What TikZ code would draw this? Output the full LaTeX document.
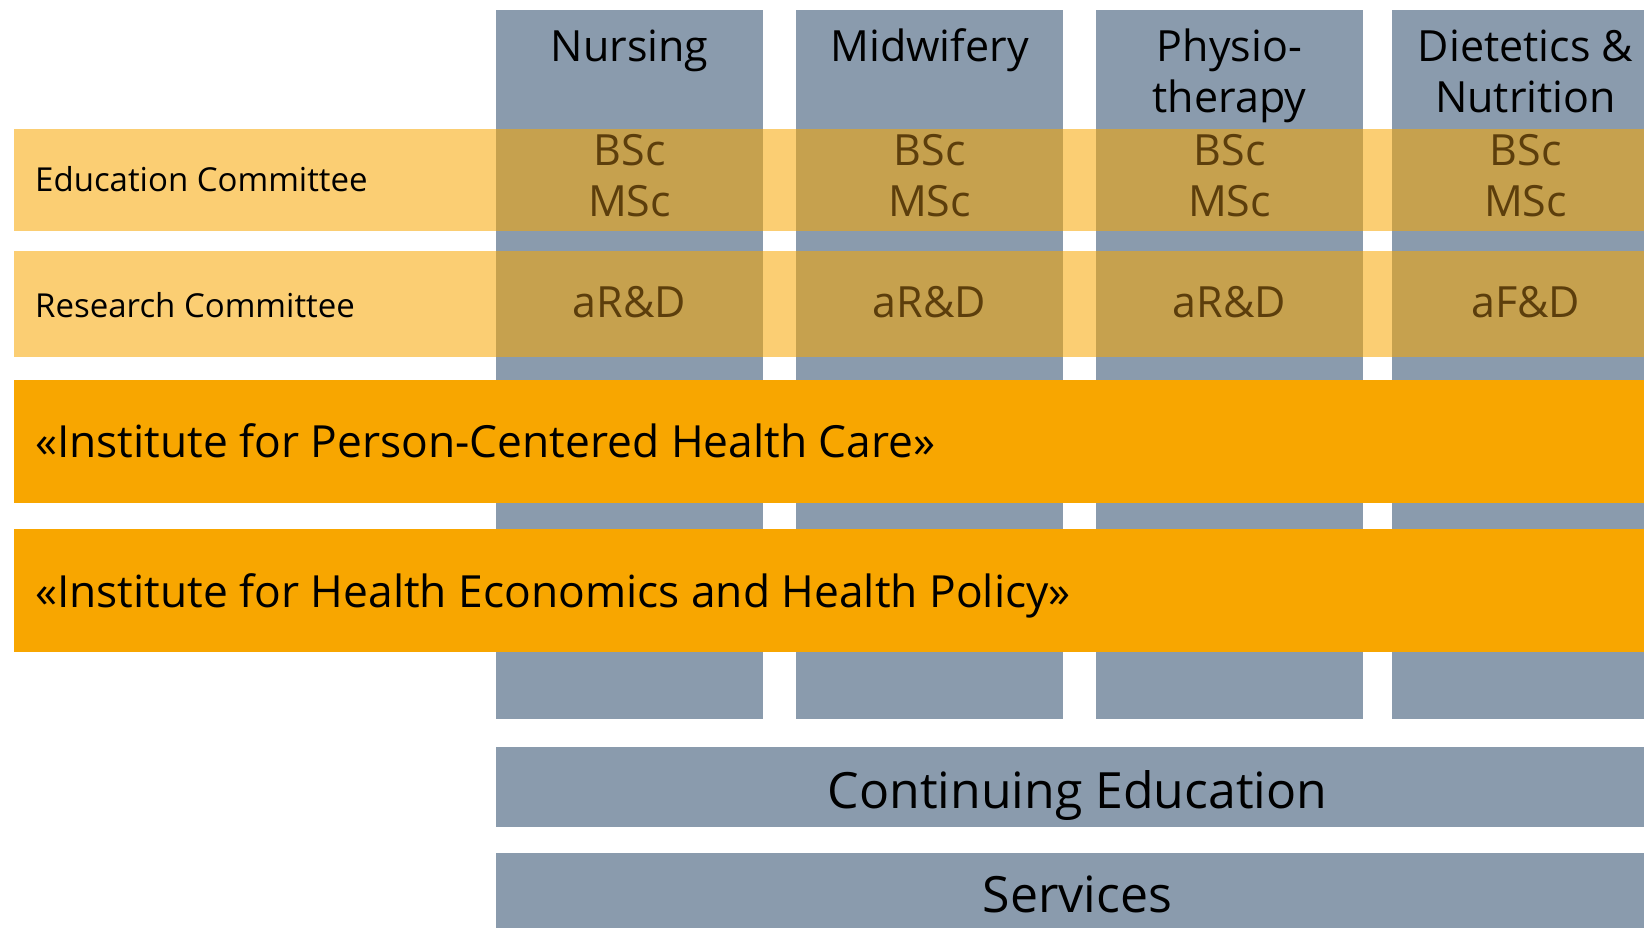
\documentclass[tikz,border=0pt]{standalone}
\usepackage{fontspec}
\setmainfont{Open Sans}
\definecolor{unigrey}{RGB}{138,155,173}
\definecolor{uniorange}{RGB}{248,166,0}
\definecolor{unibrown}{RGB}{92,62,12}

\begin{document}
\begin{tikzpicture}[x=1pt,y=-1pt,
    column/.style={fill=unigrey,inner sep=0pt,anchor=north west,minimum width=267pt,minimum height=709pt},
    head/.style={font=\fontsize{43}{51}\selectfont,anchor=base,inner sep=0pt},
    degree/.style={font=\fontsize{43}{51}\selectfont,text=unibrown,anchor=base,inner sep=0pt},
    committee/.style={fill=uniorange,fill opacity=0.55,inner sep=0pt,anchor=north west,minimum width=1660pt},
    committeelabel/.style={font=\fontsize{33}{40}\selectfont,anchor=base west,inner sep=0pt},
    institute/.style={fill=uniorange,inner sep=0pt,anchor=north west,minimum width=1660pt,minimum height=123pt},
    institutelabel/.style={font=\fontsize{44.3}{52}\selectfont,anchor=base west,inner sep=0pt},
    service/.style={fill=unigrey,inner sep=0pt,anchor=north west,minimum width=1163pt,minimum height=80pt},
    servicelabel/.style={font=\fontsize{50}{60}\selectfont,anchor=base,inner sep=0pt}]
    \useasboundingbox (0,0) rectangle (1644,928);
    \clip (0,0) rectangle (1644,928);

    % Draw study columns
    \foreach \x/\id in {496/nursing,796/midwifery,1096/physio,1392/dietetics}
        \node (\id) [column] at (\x,10) {};

    % Label columns
    \node (nursing-h) [head] at (629.5,62) {Nursing};
    \node (midwifery-h) [head] at (929.5,62) {Midwifery};
    \node (physio-h) [head] at (1229.5,62) {Physio-};
    \node (physio-h2) [head] at (1229.5,113) {therapy};
    \node (dietetics-h) [head] at (1525.5,62) {Dietetics \&};
    \node (dietetics-h2) [head] at (1525.5,113) {Nutrition};

    % Draw committee bands
    \node (education) [committee,minimum height=102pt] at (14,129) {};
    \node (research) [committee,minimum height=106pt] at (14,251) {};
    \node (education-l) [committeelabel] at (35,192) {Education Committee};
    \node (research-l) [committeelabel] at (35,317) {Research Committee};

    % Degrees and research per column
    \foreach \x/\id/\rd in {629.5/nursing/aR\&D,929.5/midwifery/aR\&D,1229.5/physio/aR\&D,1525.5/dietetics/aF\&D} {
        \node (\id-bsc) [degree] at (\x,166) {BSc};
        \node (\id-msc) [degree] at (\x,217) {MSc};
        \node (\id-rd) [degree] at (\x,317) {\rd};
    }

    % Draw institutes
    \node (pchc) [institute] at (14,380) {};
    \node (hehp) [institute] at (14,529) {};
    \node (pchc-l) [institutelabel] at (35,457) {«Institute for Person-Centered Health Care»};
    \node (hehp-l) [institutelabel] at (35,607) {«Institute for Health Economics and Health Policy»};

    % Draw continuing education and services
    \node (contedu) [service] at (496,747) {};
    \node (services) [service] at (496,853) {};
    \node (contedu-l) [servicelabel] at (1077.5,808) {Continuing Education};
    \node (services-l) [servicelabel] at (1077.5,912) {Services};
\end{tikzpicture}
\end{document}
